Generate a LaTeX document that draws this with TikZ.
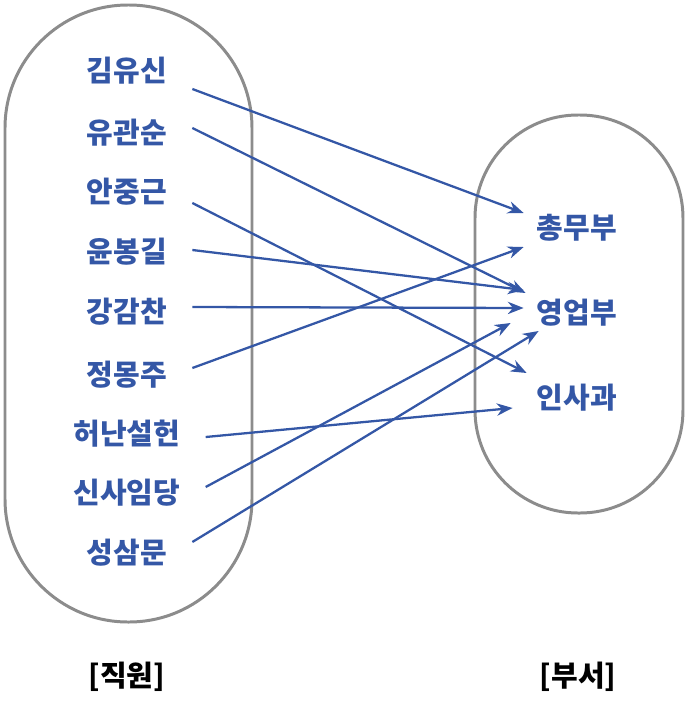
\documentclass[tikz,border=0pt]{standalone}
\usepackage{fontspec}
\usepackage{xcolor}
\usepackage{tikz}
\usetikzlibrary{arrows.meta, positioning, calc}
\newfontfamily\krfont{Noto Sans CJK KR Black}
\definecolor{nameblue}{HTML}{3457A6}
\definecolor{setgray}{HTML}{8C8C8C}

\begin{document}
\begin{tikzpicture}[
    x=0.02cm, y=-0.02cm,
    setbox/.style={draw=setgray, line width=1.7pt},
    member/.style={font=\krfont\fontsize{16.5}{16.5}\selectfont, text=nameblue, inner sep=0pt},
    caption/.style={font=\krfont\fontsize{16.5}{16.5}\selectfont, text=black, inner sep=0pt},
    link/.style={-{Stealth[length=9pt, width=7pt]}, line width=1.3pt, nameblue},
]
    \useasboundingbox (0,0) rectangle (686,714);

    % sets
    \draw[setbox, rounded corners=2.46cm] (5,5) rectangle (252,622);
    \draw[setbox, rounded corners=2.06cm] (475,115) rectangle (683,513);

    % employees
    \node[member] (kim)  at (127,71)  {김유신};
    \node[member] (yu)   at (127,133) {유관순};
    \node[member] (an)   at (127,192) {안중근};
    \node[member] (yun)  at (127,252) {윤봉길};
    \node[member] (kang) at (127,312) {강감찬};
    \node[member] (jung) at (127,375) {정몽주};
    \node[member] (heo)  at (127,434) {허난설헌};
    \node[member] (sin)  at (127,493) {신사임당};
    \node[member] (seong) at (127,553) {성삼문};

    % departments
    \node[member] (chong) at (577,228) {총무부};
    \node[member] (yeong) at (577,313) {영업부};
    \node[member] (insa)  at (577,398) {인사과};

    % captions
    \node[caption] (staff) at (127,677) {[직원]};
    \node[caption] (dept)  at (578,677) {[부서]};

    % mapping
    \draw[link] ($(kim.east)+(25,18)$)   -- ($(chong.west)+(-13,-15)$);
    \draw[link] ($(yu.east)+(25,-5)$)    -- ($(yeong.west)+(-11,-20)$);
    \draw[link] ($(an.east)+(25,11)$)    -- ($(insa.west)+(-10,-25)$);
    \draw[link] ($(yun.east)+(25,-2)$)   -- ($(yeong.west)+(-13,-23)$);
    \draw[link] ($(kang.east)+(25,-5)$)  -- ($(yeong.west)+(-13,-5)$);
    \draw[link] ($(jung.east)+(25,-7)$)  -- ($(chong.west)+(-13,19)$);
    \draw[link] ($(heo.east)+(25,3)$)    -- ($(insa.west)+(-24,10)$);
    \draw[link] ($(sin.east)+(25,-6)$)   -- ($(yeong.west)+(-26,10)$);
    \draw[link] ($(seong.east)+(25,-11)$) -- ($(yeong.west)+(2,18)$);

\end{tikzpicture}
\end{document}
